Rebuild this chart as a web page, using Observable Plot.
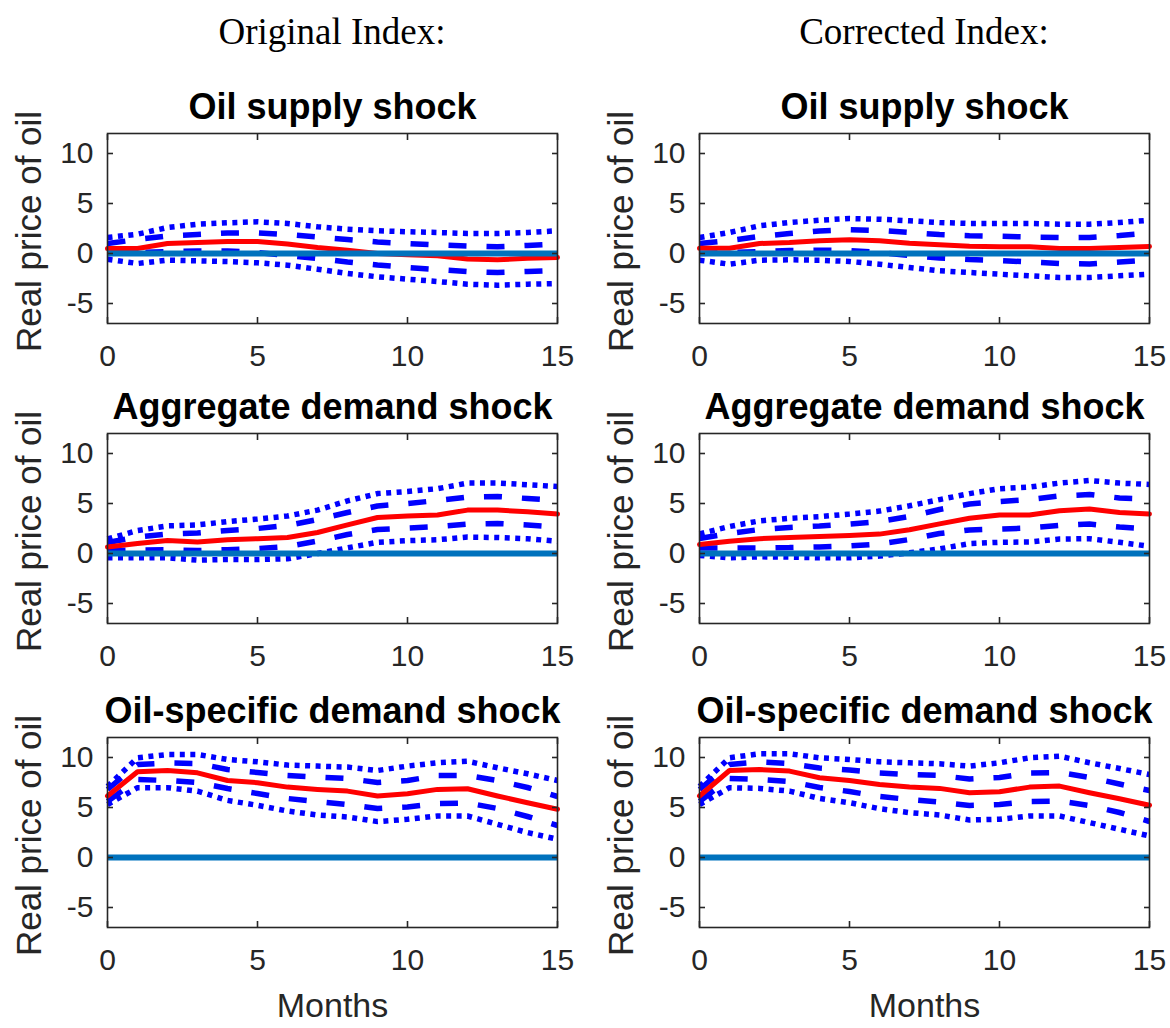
<!DOCTYPE html>
<html><head><meta charset="utf-8">
<script src="https://cdn.jsdelivr.net/npm/d3@7"></script>
<script src="https://cdn.jsdelivr.net/npm/@observablehq/plot@0.6"></script>
<style>
body{margin:0;background:#fff;}
#root{position:relative;width:1170px;height:1028px;overflow:hidden;background:#fff;}
.panel{position:absolute;}
.hdr{position:absolute;font-family:"Liberation Serif","Times New Roman",serif;font-size:37px;color:#000;transform:translateX(-50%);white-space:nowrap;line-height:1;}
</style></head><body><div id="root"></div>
<script>
const months = [0,1,2,3,4,5,6,7,8,9,10,11,12,13,14,15];
const xTicks = [0,5,10,15];
const yTicks = [-5,0,5,10];
const columnHeaders = ["Original Index:", "Corrected Index:"];
const shockTitles = ["Oil supply shock", "Aggregate demand shock", "Oil-specific demand shock"];
const yLabel = "Real price of oil";
const xLabel = "Months";

// Oil supply shock
const supplyOrigMed  = [0.5,0.5,1.0,1.1,1.2,1.2,0.95,0.6,0.33,0.0,-0.13,-0.23,-0.55,-0.63,-0.47,-0.4];
const supplyOrigHi68 = [1.0,1.4,1.75,1.9,2.05,2.07,1.9,1.65,1.4,1.15,1.0,0.85,0.75,0.68,0.8,0.95];
const supplyOrigLo68 = [0.0,0.1,0.2,0.25,0.25,0.1,-0.2,-0.5,-0.85,-1.15,-1.4,-1.6,-1.8,-1.9,-1.8,-1.7];
const supplyOrigHi90 = [1.6,1.93,2.6,2.93,3.07,3.17,3.0,2.67,2.43,2.27,2.17,2.1,2.0,2.0,2.1,2.27];
const supplyOrigLo90 = [-0.57,-1.0,-0.67,-0.73,-0.8,-0.93,-1.17,-1.57,-2.0,-2.33,-2.57,-2.8,-3.07,-3.17,-3.07,-3.0];

const supplyCorrMed  = [0.53,0.53,1.0,1.1,1.27,1.37,1.27,1.03,0.87,0.73,0.67,0.67,0.5,0.5,0.6,0.7];
const supplyCorrHi68 = [1.0,1.3,1.7,2.0,2.25,2.38,2.3,2.1,1.9,1.78,1.72,1.65,1.6,1.6,1.8,2.05];
const supplyCorrLo68 = [0.0,0.1,0.2,0.3,0.33,0.3,0.1,-0.2,-0.45,-0.6,-0.7,-0.85,-1.0,-1.05,-0.85,-0.65];
const supplyCorrHi90 = [1.6,2.1,2.77,3.1,3.33,3.5,3.43,3.27,3.1,3.0,3.0,3.0,2.93,2.93,3.1,3.33];
const supplyCorrLo90 = [-0.67,-1.07,-0.67,-0.63,-0.67,-0.8,-1.07,-1.4,-1.73,-1.9,-2.07,-2.23,-2.4,-2.4,-2.23,-2.07];

// Aggregate demand shock
const aggOrigMed  = [0.66,1.0,1.3,1.15,1.38,1.48,1.6,2.1,2.86,3.6,3.75,3.85,4.34,4.34,4.18,3.95];
const aggOrigHi68 = [1.1,1.65,1.95,2.05,2.3,2.5,2.8,3.4,4.1,4.75,5.0,5.3,5.65,5.7,5.5,5.3];
const aggOrigLo68 = [0.3,0.35,0.38,0.3,0.38,0.5,0.7,1.25,1.9,2.4,2.55,2.7,2.95,3.0,2.85,2.65];
const aggOrigHi90 = [1.45,2.3,2.76,2.86,3.19,3.45,3.75,4.34,5.26,5.99,6.2,6.48,7.04,7.04,6.88,6.7];
const aggOrigLo90 = [-0.43,-0.43,-0.43,-0.66,-0.6,-0.6,-0.53,0.0,0.56,1.12,1.28,1.38,1.64,1.6,1.48,1.22];

const aggCorrMed  = [0.89,1.22,1.48,1.6,1.7,1.8,1.94,2.37,2.96,3.52,3.85,3.85,4.28,4.44,4.1,3.95];
const aggCorrHi68 = [1.5,2.0,2.4,2.6,2.75,2.95,3.2,3.7,4.4,4.95,5.2,5.4,5.75,5.9,5.55,5.45];
const aggCorrLo68 = [0.55,0.55,0.55,0.6,0.66,0.75,0.95,1.4,2.0,2.35,2.45,2.55,2.8,2.95,2.65,2.45];
const aggCorrHi90 = [1.97,2.7,3.26,3.52,3.68,3.95,4.24,4.77,5.39,5.99,6.48,6.64,7.04,7.3,7.04,6.9];
const aggCorrLo90 = [-0.2,-0.43,-0.33,-0.36,-0.43,-0.43,-0.26,0.07,0.46,0.99,1.12,1.15,1.45,1.48,1.12,0.72];

// Oil-specific demand shock
const oilOrigMed  = [6.15,8.57,8.7,8.47,7.7,7.48,7.04,6.81,6.64,6.15,6.38,6.81,6.88,6.15,5.48,4.82];
const oilOrigHi68 = [6.8,9.3,9.45,9.4,8.8,8.5,8.2,8.05,7.9,7.5,7.7,8.2,8.2,7.7,7.0,6.1];
const oilOrigLo68 = [5.6,7.8,7.7,7.5,6.9,6.4,5.9,5.6,5.3,4.9,5.05,5.4,5.45,4.9,4.1,3.2];
const oilOrigHi90 = [7.1,9.97,10.3,10.3,9.8,9.57,9.24,9.14,9.04,8.7,9.14,9.47,9.63,8.97,8.37,7.7];
const oilOrigLo90 = [5.3,6.98,6.98,6.64,5.71,5.22,4.65,4.25,4.05,3.59,3.82,4.15,4.15,3.32,2.49,1.83];

const oilCorrMed  = [6.15,8.7,8.8,8.64,7.97,7.71,7.31,7.04,6.91,6.48,6.58,7.04,7.14,6.48,5.88,5.22];
const oilCorrHi68 = [6.8,9.3,9.55,9.4,8.95,8.75,8.45,8.3,8.2,7.85,8.0,8.45,8.5,8.0,7.35,6.7];
const oilCorrLo68 = [5.6,7.9,7.8,7.6,7.0,6.6,6.1,5.8,5.55,5.2,5.3,5.6,5.65,5.2,4.5,3.6];
const oilCorrHi90 = [7.1,9.97,10.37,10.37,9.97,9.8,9.57,9.47,9.37,9.14,9.47,9.97,10.13,9.47,8.9,8.3];
const oilCorrLo90 = [5.3,6.98,6.91,6.64,5.91,5.48,4.88,4.49,4.25,3.75,3.82,4.15,4.15,3.49,2.82,2.16];

const panels = [
  [ {med: supplyOrigMed, hi68: supplyOrigHi68, lo68: supplyOrigLo68, hi90: supplyOrigHi90, lo90: supplyOrigLo90},
    {med: supplyCorrMed, hi68: supplyCorrHi68, lo68: supplyCorrLo68, hi90: supplyCorrHi90, lo90: supplyCorrLo90} ],
  [ {med: aggOrigMed, hi68: aggOrigHi68, lo68: aggOrigLo68, hi90: aggOrigHi90, lo90: aggOrigLo90},
    {med: aggCorrMed, hi68: aggCorrHi68, lo68: aggCorrLo68, hi90: aggCorrHi90, lo90: aggCorrLo90} ],
  [ {med: oilOrigMed, hi68: oilOrigHi68, lo68: oilOrigLo68, hi90: oilOrigHi90, lo90: oilOrigLo90},
    {med: oilCorrMed, hi68: oilCorrHi68, lo68: oilCorrLo68, hi90: oilCorrHi90, lo90: oilCorrLo90} ]
];

// layout
const boxLeft = [107, 699];
const boxTop = [132.5, 432.5, 736.5];
const boxW = 450, boxH = 190;
const mL = 107, mR = 22, mT = 60, mB = 95;
const ink = "#262626";
const font = "'Liberation Sans', Arial, Helvetica, sans-serif";

const root = document.getElementById("root");
columnHeaders.forEach((t, c) => {
  const d = document.createElement("div");
  d.className = "hdr";
  d.textContent = t;
  d.style.left = (boxLeft[c] + boxW / 2) + "px";
  d.style.top = "13px";
  root.appendChild(d);
});

const lineStyle = {strokeLinecap: "butt", strokeLinejoin: "miter"};

panels.forEach((row, r) => row.forEach((s, c) => {
  const rows = months.map((m, i) => ({m, med: s.med[i], hi68: s.hi68[i], lo68: s.lo68[i], hi90: s.hi90[i], lo90: s.lo90[i]}));
  const marks = [
    Plot.line(rows, {x: "m", y: "hi90", stroke: "#0000FF", strokeWidth: 5.5, strokeDasharray: "5,5.5", ...lineStyle}),
    Plot.line(rows, {x: "m", y: "lo90", stroke: "#0000FF", strokeWidth: 5.5, strokeDasharray: "5,5.5", ...lineStyle}),
    Plot.line(rows, {x: "m", y: "hi68", stroke: "#0000FF", strokeWidth: 5.5, strokeDasharray: "18,20", ...lineStyle}),
    Plot.line(rows, {x: "m", y: "lo68", stroke: "#0000FF", strokeWidth: 5.5, strokeDasharray: "18,20", ...lineStyle}),
    Plot.line(rows, {x: "m", y: "med", stroke: "#FF0000", strokeWidth: 5, strokeLinejoin: "round"}),
    Plot.ruleY([0], {stroke: "#0072BD", strokeWidth: 6}),
    Plot.frame({stroke: ink, strokeWidth: 1.6}),
    Plot.axisX(xTicks, {anchor: "bottom", tickSize: -6, tickPadding: 27, tickFormat: d => String(d), fontSize: 30, color: ink, strokeWidth: 1.6, label: null}),
    Plot.axisX(xTicks, {anchor: "top", tickSize: -6, fill: "none", stroke: ink, strokeWidth: 1.6, label: null}),
    Plot.axisY(yTicks, {anchor: "left", tickSize: -6, tickPadding: 20, tickFormat: d => String(d), fontSize: 30, color: ink, strokeWidth: 1.6, label: null}),
    Plot.axisY(yTicks, {anchor: "right", tickSize: -6, fill: "none", stroke: ink, strokeWidth: 1.6, label: null}),
    Plot.text([shockTitles[r]], {text: d => d, frameAnchor: "top", dy: -15, lineAnchor: "bottom", fontSize: 36, fontWeight: "bold", fill: "#000"}),
    Plot.text([yLabel], {text: d => d, frameAnchor: "left", textAnchor: "middle", dx: -78, dy: 3, rotate: -90, fontSize: 35, fill: ink})
  ];
  if (r === 2) marks.push(Plot.text([xLabel], {text: d => d, frameAnchor: "bottom", dy: 65, lineAnchor: "top", fontSize: 34, fill: ink}));
  const chart = Plot.plot({
    width: mL + boxW + mR, height: mT + boxH + mB,
    marginLeft: mL, marginRight: mR, marginTop: mT, marginBottom: mB,
    x: {domain: [0, 15]},
    y: {domain: [-7, 12]},
    style: {fontFamily: font, background: "transparent", overflow: "visible"},
    marks
  });
  chart.classList.add("panel");
  chart.style.left = (boxLeft[c] - mL) + "px";
  chart.style.top = (boxTop[r] - mT) + "px";
  root.appendChild(chart);
}));
</script></body></html>
